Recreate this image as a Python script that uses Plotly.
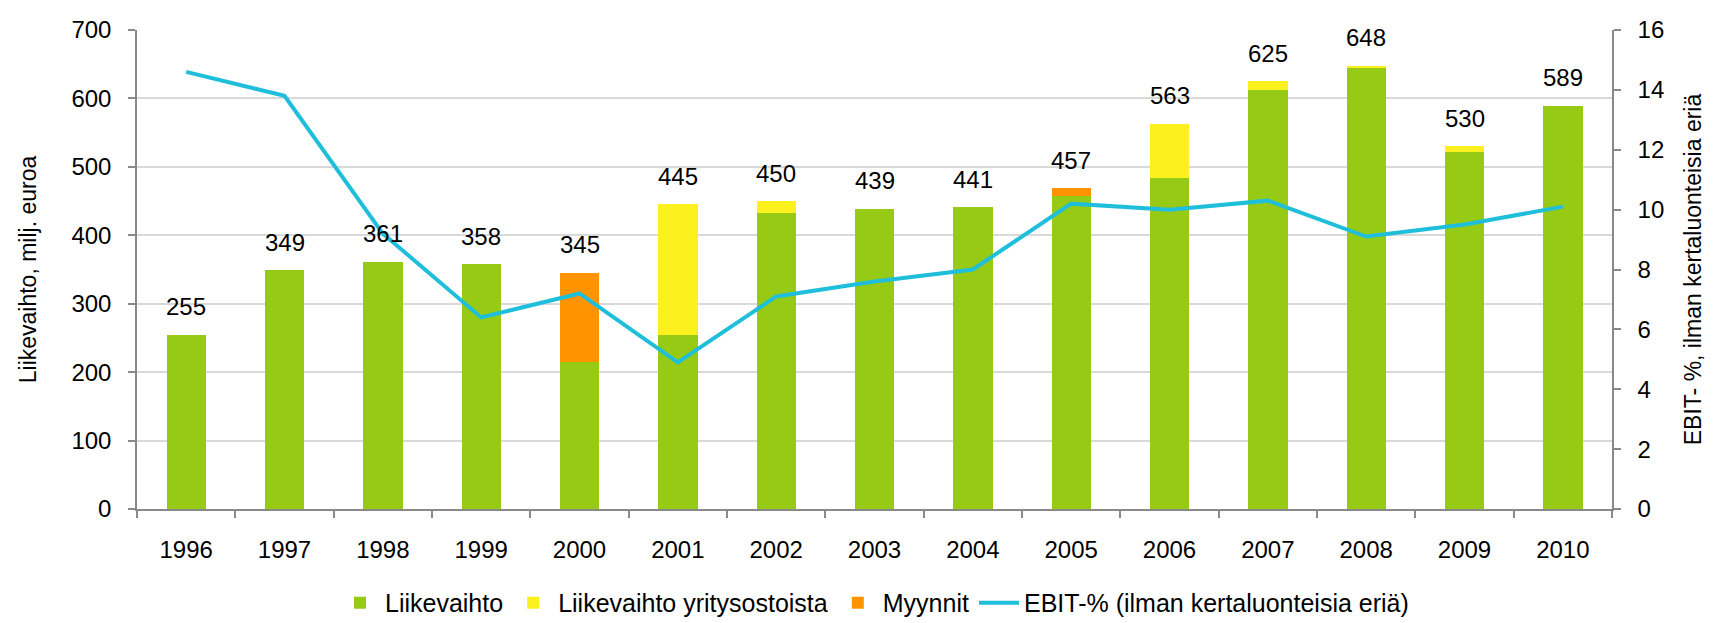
import plotly.graph_objects as go

years = ["1996", "1997", "1998", "1999", "2000", "2001", "2002", "2003",
         "2004", "2005", "2006", "2007", "2008", "2009", "2010"]
liikevaihto = [255, 349, 361, 358, 215, 254, 432, 439, 441, 457, 483, 612, 645, 521, 589]
yritysostot = [0, 0, 0, 0, 0, 191, 18, 0, 0, 0, 80, 13, 3, 9, 0]
myynnit = [0, 0, 0, 0, 130, 0, 0, 0, 0, 12, 0, 0, 0, 0, 0]
ebit = [14.6, 13.8, 9.2, 6.4, 7.2, 4.9, 7.1, 7.6, 8.0, 10.2, 10.0, 10.3, 9.1, 9.5, 10.1]
labels = [255, 349, 361, 358, 345, 445, 450, 439, 441, 457, 563, 625, 648, 530, 589]

FONT = "Liberation Sans, Arial, sans-serif"
GREEN = "#97CA14"
YELLOW = "#FCF01E"
ORANGE = "#FF9400"
CYAN = "#1FBFDB"

fig = go.Figure()
fig.add_trace(go.Bar(x=years, y=liikevaihto, name="Liikevaihto",
                     marker=dict(color=GREEN, line=dict(width=0))))
fig.add_trace(go.Bar(x=years, y=yritysostot, name="Liikevaihto yritysostoista",
                     marker=dict(color=YELLOW, line=dict(width=0))))
fig.add_trace(go.Bar(x=years, y=myynnit, name="Myynnit",
                     marker=dict(color=ORANGE, line=dict(width=0))))
fig.add_trace(go.Scatter(x=years, y=ebit, name="EBIT-% (ilman kertaluonteisia eriä)",
                         mode="lines", line=dict(color=CYAN, width=4), yaxis="y2"))

totals = [a + b + c for a, b, c in zip(liikevaihto, yritysostot, myynnit)]
for i, (tot, lab) in enumerate(zip(totals, labels)):
    fig.add_annotation(x=i, y=tot, xref="x", yref="y", text=str(lab), showarrow=False,
                       yshift=28, yanchor="middle",
                       font=dict(family=FONT, size=24, color="black"))

axis_line = "#898989"
fig.update_layout(
    width=1719, height=623,
    margin=dict(l=129, r=115, t=22, b=122),
    paper_bgcolor="white", plot_bgcolor="white",
    barmode="stack", bargap=0.6,
    font=dict(family=FONT, size=24, color="black"),
    xaxis=dict(type="category", range=[-0.5, 14.5], showgrid=False, showline=True,
               linecolor=axis_line, linewidth=1.5, ticks="outside",
               tickson="boundaries", ticklen=7, tickangle=0, automargin=False,
               tickcolor=axis_line, tickwidth=1.5,
               tickfont=dict(size=24), ticklabelstandoff=18),
    yaxis=dict(range=[0, 700], dtick=100, showgrid=True, gridcolor="#D9D9D9",
               gridwidth=1.5, showline=True, linecolor=axis_line, linewidth=1.5,
               ticks="outside", ticklen=7, tickcolor=axis_line, tickwidth=1.5,
               tickfont=dict(size=24), ticklabelstandoff=12, zeroline=False,
               automargin=False,
               title=dict(text="Liikevaihto, milj. euroa", font=dict(size=23),
                          standoff=28)),
    yaxis2=dict(range=[0, 16], dtick=2, overlaying="y", side="right",
                showgrid=False, showline=True, linecolor=axis_line, linewidth=1.5,
                ticks="outside", ticklen=7, tickcolor=axis_line, tickwidth=1.5,
                tickfont=dict(size=24), ticklabelstandoff=12, zeroline=False,
                automargin=False,
                title=dict(text="EBIT- %, ilman kertaluonteisia eriä",
                           font=dict(size=23), standoff=22)),
    legend=dict(orientation="h", x=0.5, xanchor="center", xref="paper",
                y=0.045, yref="container", yanchor="middle",
                font=dict(size=25), traceorder="normal", itemwidth=40),
    showlegend=True,
)

fig.write_html("out.html")
